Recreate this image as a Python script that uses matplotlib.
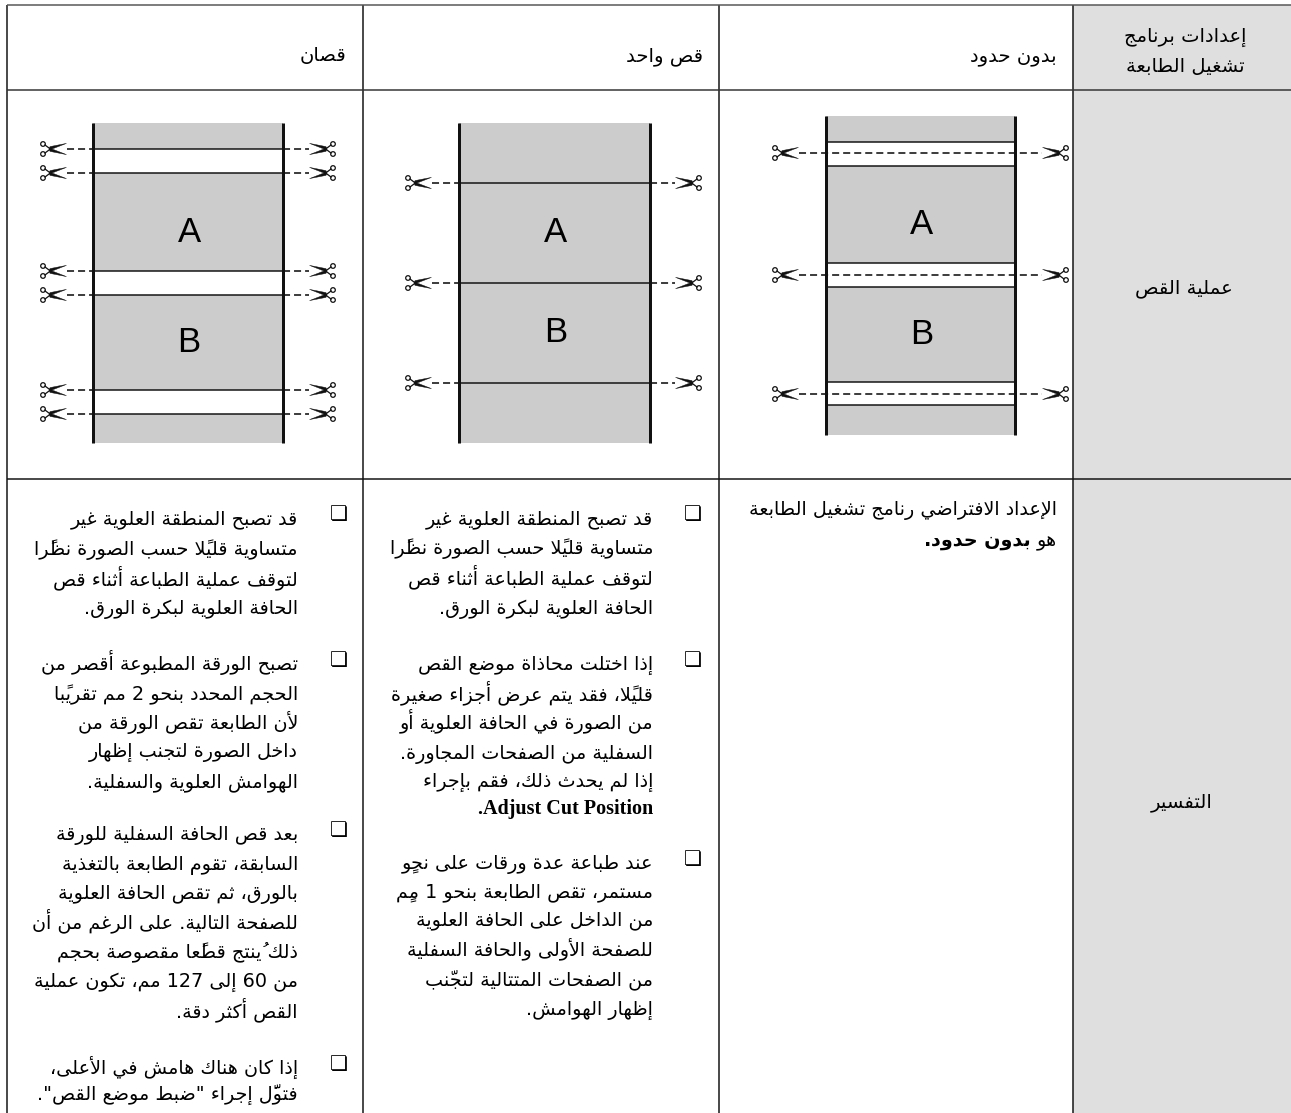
import re
import matplotlib
matplotlib.use('Agg')
import matplotlib.pyplot as plt
from matplotlib.patches import Polygon, Circle, Rectangle

# Arabic letters -> presentation forms (isolated, final, initial, medial)
DUAL = 'ئبتثجحخسشصضطظعغفقكلمنهي'
DUAL_START = dict(zip(DUAL, [0xFE89, 0xFE8F, 0xFE95, 0xFE99, 0xFE9D, 0xFEA1, 0xFEA5, 0xFEB1, 0xFEB5, 0xFEB9,
                             0xFEBD, 0xFEC1, 0xFEC5, 0xFEC9, 0xFECD, 0xFED1, 0xFED5, 0xFED9, 0xFEDD, 0xFEE1,
                             0xFEE5, 0xFEE9, 0xFEF1]))
RIGHT_START = dict(zip('آأؤإاةدذرزوى', [0xFE81, 0xFE83, 0xFE85, 0xFE87, 0xFE8D, 0xFE93, 0xFEA9, 0xFEAB, 0xFEAD,
                                         0xFEAF, 0xFEED, 0xFEEF]))
LAM_ALEF = {'آ': 0xFEF5, 'أ': 0xFEF7, 'إ': 0xFEF9, 'ا': 0xFEFB}
MARKS = '\u064b\u064c\u064d\u064e\u064f\u0650\u0651\u0652'


def shape(text):
    # matplotlib does no shaping or bidi, so do both here
    clusters = []
    for ch in text:
        if ch in MARKS and clusters:
            clusters[-1][1] += ch
        elif ch in LAM_ALEF and clusters and clusters[-1][0] == 'ل':
            clusters[-1][0] = 'ل' + ch
        else:
            clusters.append([ch, ''])
    is_letter = lambda c: c[0][0] in DUAL_START or c[0][0] in RIGHT_START or c[0] == 'ء'
    joins_next = lambda c: c[0] in DUAL_START
    out = []
    for i, (ch, marks) in enumerate(clusters):
        prev_j = i > 0 and joins_next(clusters[i - 1])
        next_j = i + 1 < len(clusters) and is_letter(clusters[i + 1])
        if len(ch) == 2:
            g = chr(LAM_ALEF[ch[1]] + (1 if prev_j else 0))
        elif ch in DUAL_START:
            g = chr(DUAL_START[ch] + (3 if prev_j and next_j else 1 if prev_j else 2 if next_j else 0))
        elif ch in RIGHT_START:
            g = chr(RIGHT_START[ch] + (1 if prev_j else 0))
        elif ch == 'ء':
            g = '\uFE80'
        else:
            g = ch
        out.append(g + marks)
    # visual order, with number and latin runs kept left to right
    run, res = [], []
    for c in out[::-1]:
        if re.fullmatch(r'[A-Za-z0-9]', c):
            run.append(c)
        else:
            res.extend(run[::-1])
            run = []
            res.append(c)
    res.extend(run[::-1])
    return ''.join(res)


# text
HEADERS = ['قصان', 'قص واحد', 'بدون حدود']
SETTINGS_LABEL = ['إعدادات برنامج', 'تشغيل الطابعة']
ROW_LABELS = ['عملية القص', 'التفسير']
DEFAULT_LINE = 'الإعداد الافتراضي رنامج تشغيل الطابعة'
DEFAULT_PRE = 'هو'
DEFAULT_BOLD = 'بدون حدود'
DEFAULT_POST = '.'

LEFT_BLOCKS = [
    ['قد تصبح المنطقة العلوية غير', 'متساوية قليلًا حسب الصورة نظرًا', 'لتوقف عملية الطباعة أثناء قص',
     'الحافة العلوية لبكرة الورق.'],
    ['تصبح الورقة المطبوعة أقصر من', 'الحجم المحدد بنحو 2 مم تقريبًا', 'لأن الطابعة تقص الورقة من',
     'داخل الصورة لتجنب إظهار', 'الهوامش العلوية والسفلية.'],
    ['بعد قص الحافة السفلية للورقة', 'السابقة، تقوم الطابعة بالتغذية', 'بالورق، ثم تقص الحافة العلوية',
     'للصفحة التالية. على الرغم من أن', 'ذلك يُنتج قطعًا مقصوصة بحجم', 'من 60 إلى 127 مم، تكون عملية',
     'القص أكثر دقة.'],
    ['إذا كان هناك هامش في الأعلى،', 'فتولَّ إجراء "ضبط موضع القص".'],
]
LEFT_Y = [[517, 548, 578, 607], [663, 693, 722, 750, 780], [833, 863, 892, 921, 950, 980, 1010], [1067, 1093]]

MID_BLOCKS = [
    ['قد تصبح المنطقة العلوية غير', 'متساوية قليلًا حسب الصورة نظرًا', 'لتوقف عملية الطباعة أثناء قص',
     'الحافة العلوية لبكرة الورق.'],
    ['إذا اختلت محاذاة موضع القص', 'قليلًا، فقد يتم عرض أجزاء صغيرة', 'من الصورة في الحافة العلوية أو',
     'السفلية من الصفحات المجاورة.', 'إذا لم يحدث ذلك، فقم بإجراء'],
    ['عند طباعة عدة ورقات على نحوٍ', 'مستمر، تقص الطابعة بنحو 1 ممٍ', 'من الداخل على الحافة العلوية',
     'للصفحة الأولى والحافة السفلية', 'من الصفحات المتتالية لتجنّب', 'إظهار الهوامش.'],
]
MID_Y = [[517, 547, 577, 607], [663, 693, 722, 752, 780], [862, 890, 918, 948, 978, 1008]]
ADJUST_LABEL = '.Adjust Cut Position'

# diagrams: bar x, top, bottom, white bands, cut lines, letter positions
DIAGRAMS = [
    dict(bars=(93, 283), span=(123, 443), bands=[(149, 173), (271, 295), (390, 414)],
         cuts=[149, 173, 271, 295, 390, 414], letters=[('A', 189, 232), ('B', 189, 342)],
         solid=[149, 173, 271, 295, 390, 414], across=False, scis=(40, 336)),
    dict(bars=(459, 650), span=(123, 443), bands=[],
         cuts=[183, 283, 383], letters=[('A', 556, 232), ('B', 556, 332)],
         solid=[183, 283, 383], across=False, scis=(405, 702)),
    dict(bars=(826, 1015), span=(116, 435), bands=[(142, 166), (263, 287), (382, 405)],
         cuts=[153, 275, 394], letters=[('A', 922, 225), ('B', 922, 334)],
         solid=[142, 166, 263, 287, 382, 405], across=True, scis=(772, 1069)),
]

W, H = 1291, 1113
FS = 13.8
INK = '#111111'
GREY = '#cccccc'
LABEL_BG = '#dfdfdf'
px = 0.72

fig = plt.figure(figsize=(W / 100, H / 100), dpi=100)
ax = fig.add_axes([0, 0, 1, 1])
ax.set_xlim(0, W)
ax.set_ylim(H, 0)
ax.axis('off')


def rtl(x, y, s, weight='normal', size=FS, ha='right'):
    return ax.text(x, y + 7, shape(s), ha=ha, va='baseline', fontsize=size, color='black',
                   family='DejaVu Sans', weight=weight)


def scissors(x0, y, sign):
    # x0 is the handle end, blades open towards the dashes
    X = lambda d: x0 + sign * d
    for up in (-1, 1):
        ax.add_patch(Circle((X(3), y + up * 5), 2.3, fc='white', ec=INK, lw=0.9, zorder=5))
        ax.plot([X(5), X(11)], [y + up * 4, y - up * 0.5], color=INK, lw=0.9, zorder=5)
        ax.add_patch(Polygon([(X(9), y - up * 1.2), (X(26.5), y + up * 5.6), (X(10), y + up * 2.4)],
                             fc=INK, ec=INK, lw=0.3, zorder=5))


# table
ax.add_patch(Rectangle((1073, 5), W - 1073, H - 5, fc=LABEL_BG, ec='none'))
for x in [7, 363, 719, 1073]:
    ax.plot([x, x], [5, H], color=INK, lw=1.5 * px, solid_capstyle='butt')
for y, c in [(5, '#555555'), (90, '#333333'), (479, INK)]:
    ax.plot([7, W], [y, y], color=c, lw=1.5 * px, solid_capstyle='butt')

# headers
rtl(346, 54, HEADERS[0], size=14)
rtl(703, 54, HEADERS[1], size=14)
rtl(1057, 54, HEADERS[2], size=14)
rtl(1247, 35, SETTINGS_LABEL[0], size=14)
rtl(1245, 65, SETTINGS_LABEL[1], size=14)
rtl(1233, 286, ROW_LABELS[0], size=14)
rtl(1213, 800, ROW_LABELS[1], size=14)

# cutting diagrams
for d in DIAGRAMS:
    xl, xr = d['bars']
    top, bot = d['span']
    ax.add_patch(Rectangle((xl, top), xr - xl, bot - top, fc=GREY, ec='none'))
    for b0, b1 in d['bands']:
        ax.add_patch(Rectangle((xl, b0), xr - xl, b1 - b0, fc='white', ec='none'))
    for y in d['solid']:
        ax.plot([xl, xr], [y, y], color=INK, lw=1.5 * px, solid_capstyle='butt')
    for x in (xl, xr):
        ax.plot([x, x], [top, bot], color=INK, lw=3 * px, solid_capstyle='butt', zorder=4)
    sl, sr = d['scis']
    for y in d['cuts']:
        scissors(sl, y, 1)
        scissors(sr, y, -1)
        if d['across']:
            ax.plot([sl + 27, sr - 27], [y, y], color=INK, lw=1.6 * px, dashes=(4.4, 2.5), zorder=3)
        else:
            ax.plot([sl + 27, xl], [y, y], color=INK, lw=1.6 * px, dashes=(4.4, 2.5), zorder=3)
            ax.plot([xr, sr - 27], [y, y], color=INK, lw=1.6 * px, dashes=(4.4, 2.5), zorder=3)
    for letter, lx, ly in d['letters']:
        ax.text(lx, ly, letter, ha='center', va='center', fontsize=25, family='Liberation Sans', color='black')

# explanation, right column
rtl(1057, 508, DEFAULT_LINE)
t = rtl(1057, 539, DEFAULT_PRE)
fig.canvas.draw()
r = fig.canvas.get_renderer()
x_pos = 1057 - t.get_window_extent(r).width - 6
t2 = rtl(x_pos, 539, DEFAULT_BOLD, weight='bold')
rtl(x_pos - t2.get_window_extent(r).width, 539, DEFAULT_POST, weight='bold')


def bullets(blocks, ys, right, box_x):
    for lines, yy in zip(blocks, ys):
        for s, y in zip(lines, yy):
            rtl(right, y, s)
        ax.text(box_x, yy[0] - 2, '\u274f', ha='center', va='center', fontsize=14.5, family='DejaVu Sans', color='black')


bullets(LEFT_BLOCKS, LEFT_Y, 298, 339)
bullets(MID_BLOCKS, MID_Y, 653, 693)
ax.text(653, 814, ADJUST_LABEL, ha='right', va='baseline', fontsize=14.5, weight='bold',
        family='Liberation Serif', color='black')

fig.savefig('out.png', dpi=100)
